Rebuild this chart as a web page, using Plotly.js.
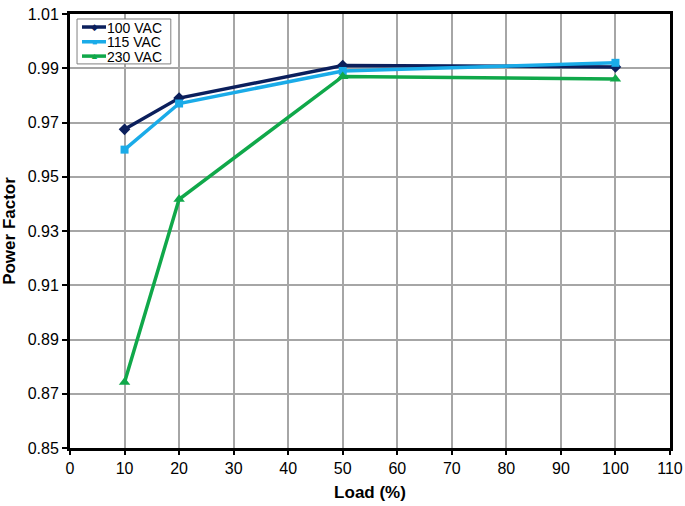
<!DOCTYPE html>
<html><head><meta charset="utf-8">
<script src="https://cdn.plot.ly/plotly-3.0.1.min.js"></script>
<style>body{margin:0;padding:0;background:#fff}#chart{width:685px;height:506px}</style>
</head><body><div id="chart"></div>
<script>
const load = [10, 20, 50, 100];
const pf100 = [0.9675, 0.979, 0.991, 0.9905];
const pf115 = [0.960, 0.977, 0.989, 0.992];
const pf230 = [0.8742, 0.9417, 0.987, 0.986];
const seriesNames = ["100 VAC", "115 VAC", "230 VAC"];
const seriesColors = ["#0b1f5c", "#1aabe8", "#10a84a"];
const legendGlyphs = ["\u25C6", "\u25A0", "\u25B2"];

const symbols = ["diamond", "square", "triangle-up"];
const sizes = [9, 8, 10];
const ys = [pf100, pf115, pf230];
const traces = ys.map((y, i) => ({
  x: load, y: y, name: seriesNames[i], mode: "lines+markers",
  line: {color: seriesColors[i], width: 3.5},
  marker: {symbol: symbols[i], size: sizes[i], color: seriesColors[i]}
}));

// manual compact legend (paper coordinates)
const rowsY = [0.970, 0.936, 0.903];
const shapes = [{type: "rect", xref: "paper", yref: "paper", x0: 0.0117, x1: 0.168, y0: 0.885, y1: 0.9885,
  line: {color: "#808080", width: 1}, fillcolor: "#fff", layer: "above"}];
const annotations = [];
rowsY.forEach((ry, i) => {
  shapes.push({type: "line", xref: "paper", yref: "paper", x0: 0.02, x1: 0.06, y0: ry, y1: ry,
    line: {color: seriesColors[i], width: 3.5}, layer: "above"});
  annotations.push({xref: "paper", yref: "paper", x: 0.04, y: ry, text: legendGlyphs[i],
    showarrow: false, font: {size: 9, color: seriesColors[i]}, xanchor: "center", yanchor: "middle",
    height: 12, borderpad: 0});
  annotations.push({xref: "paper", yref: "paper", x: 0.06, y: ry, text: seriesNames[i],
    showarrow: false, font: {size: 14, color: "#000"}, xanchor: "left", yanchor: "middle",
    height: 13, borderpad: 0});
});

const layout = {
  width: 685, height: 506,
  margin: {l: 70, r: 15, t: 14, b: 58},
  paper_bgcolor: "#fff", plot_bgcolor: "#fff",
  font: {family: "Liberation Sans, Arial, sans-serif", size: 16, color: "#000"},
  showlegend: false,
  shapes: shapes,
  annotations: annotations,
  xaxis: {
    range: [0, 110], dtick: 10, tick0: 0,
    showgrid: true, gridcolor: "#a6a6a6", gridwidth: 2,
    showline: true, linecolor: "#000", linewidth: 3, mirror: true,
    ticks: "outside", ticklen: 4, tickwidth: 2, tickcolor: "#000",
    zeroline: false, tickfont: {size: 16},
    title: {text: "<b>Load (%)</b>", font: {size: 17}, standoff: 10}
  },
  yaxis: {
    range: [0.85, 1.01], dtick: 0.02, tick0: 0.85,
    tickformat: ".2f",
    showgrid: true, gridcolor: "#a6a6a6", gridwidth: 2,
    showline: true, linecolor: "#000", linewidth: 3, mirror: true,
    ticks: "outside", ticklen: 5, tickwidth: 2, tickcolor: "#000",
    zeroline: false, tickfont: {size: 16},
    title: {text: "<b>Power Factor</b>", font: {size: 17}, standoff: 10}
  }
};

Plotly.newPlot("chart", traces, layout, {displayModeBar: false, staticPlot: true});
</script></body></html>
